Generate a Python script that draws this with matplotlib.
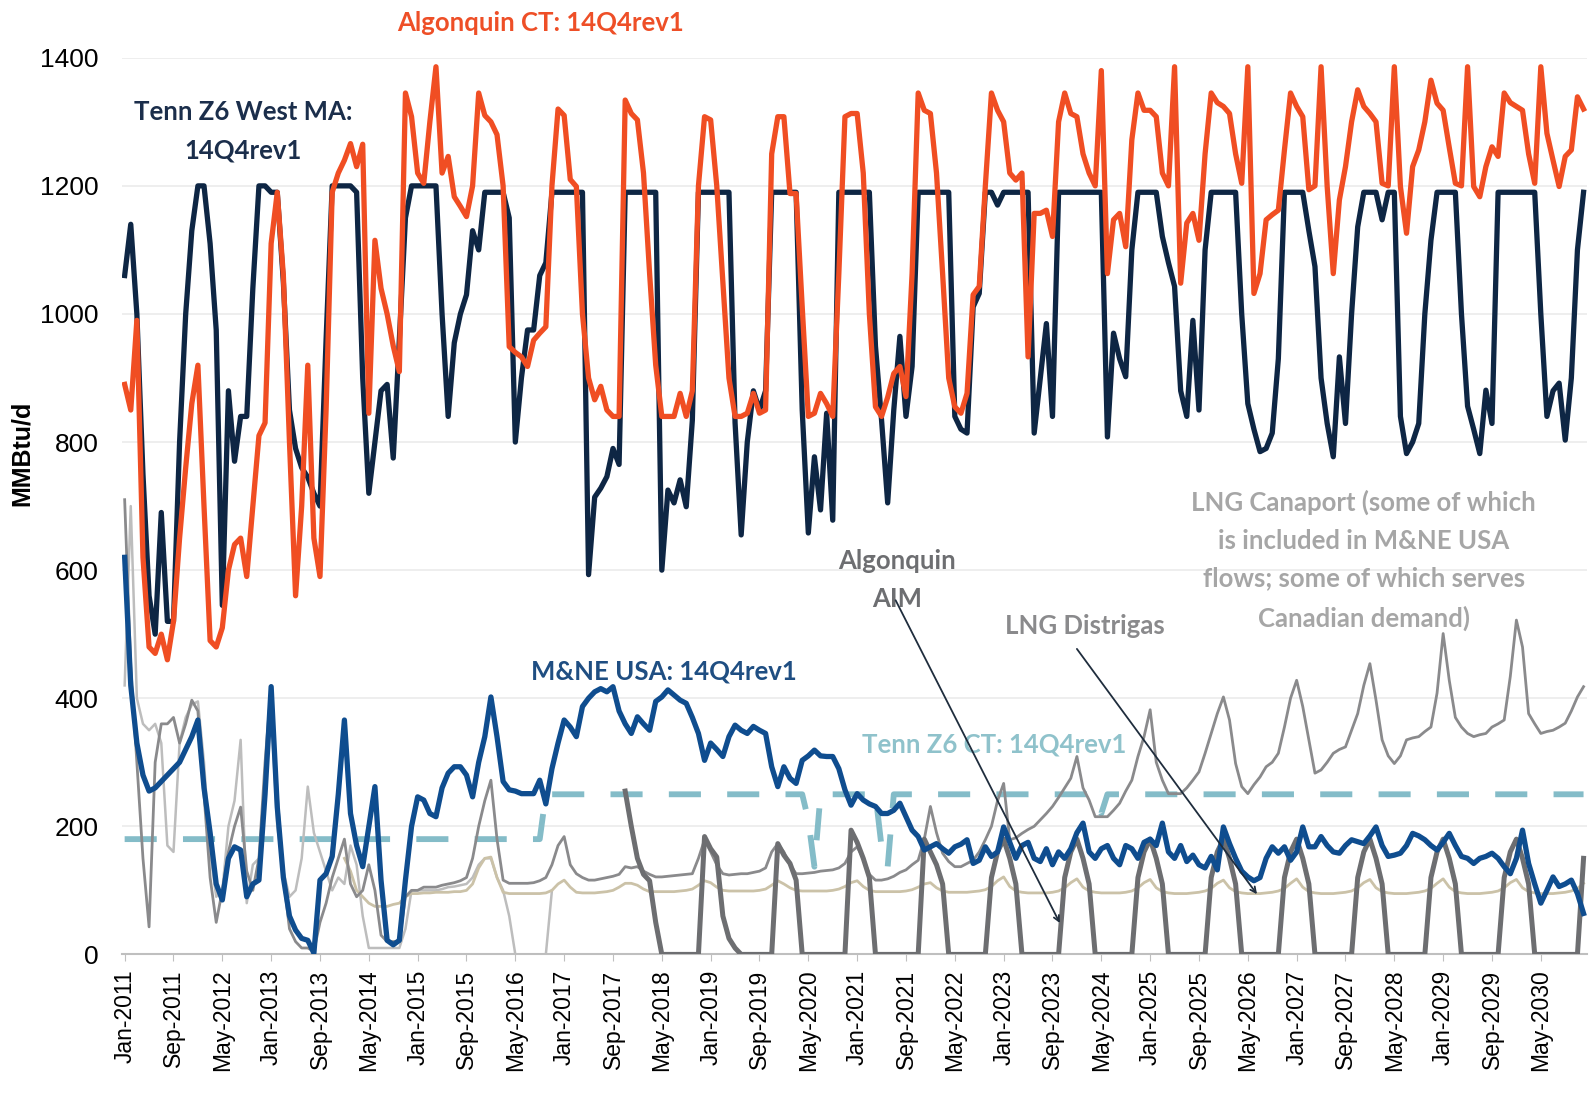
#======================================================================================
# load libraries
#======================================================================================
import numpy as np
import matplotlib.pyplot as plt

#======================================================================================
# data (monthly, Jan-2011 .. Dec-2030), MMBtu/d
#======================================================================================
months = [f"{m}-{y}" for y in range(2011, 2031)
          for m in ['Jan', 'Feb', 'Mar', 'Apr', 'May', 'Jun', 'Jul', 'Aug', 'Sep', 'Oct', 'Nov', 'Dec']]

tenn_west = [
    1060, 1140, 1000, 750, 560, 500, 690, 520, 520, 800, 1000, 1130,
    1200, 1200, 1110, 975, 545, 880, 770, 840, 840, 1040, 1200, 1200,
    1190, 1190, 1050, 850, 790, 760, 745, 720, 700, 960, 1200, 1200,
    1200, 1200, 1190, 900, 720, 800, 880, 890, 775, 960, 1150, 1200,
    1200, 1200, 1200, 1200, 1000, 840, 955, 1000, 1030, 1130, 1100, 1190,
    1190, 1190, 1190, 1150, 800, 900, 975, 975, 1060, 1080, 1190, 1190,
    1190, 1190, 1190, 1190, 593, 714, 728, 746, 790, 765, 1190, 1190,
    1190, 1190, 1190, 1190, 600, 725, 705, 741, 699, 834, 1190, 1190,
    1190, 1190, 1190, 1190, 830, 655, 800, 880, 850, 880, 1190, 1190,
    1190, 1190, 1190, 850, 658, 777, 694, 845, 678, 1190, 1190, 1190,
    1190, 1190, 1190, 950, 834, 705, 850, 965, 840, 918, 1190, 1190,
    1190, 1190, 1190, 1190, 840, 820, 814, 1011, 1032, 1190, 1190, 1170,
    1190, 1190, 1190, 1190, 1190, 814, 900, 985, 840, 1190, 1190, 1190,
    1190, 1190, 1190, 1190, 1190, 808, 970, 930, 902, 1100, 1190, 1190,
    1190, 1190, 1121, 1080, 1043, 880, 840, 990, 850, 1100, 1190, 1190,
    1190, 1190, 1190, 1000, 860, 820, 785, 790, 814, 930, 1190, 1190,
    1190, 1190, 1130, 1074, 900, 829, 777, 933, 829, 1000, 1136, 1190,
    1190, 1190, 1147, 1190, 1190, 840, 782, 800, 829, 1000, 1115, 1190,
    1190, 1190, 1190, 1000, 856, 820, 782, 881, 829, 1190, 1190, 1190,
    1190, 1190, 1190, 1190, 1000, 840, 880, 892, 803, 900, 1100, 1190,
]

algonquin_ct = [
    890, 850, 990, 620, 480, 470, 500, 460, 520, 650, 760, 860,
    920, 700, 490, 480, 510, 600, 640, 650, 590, 700, 810, 830,
    1110, 1190, 1060, 800, 560, 700, 920, 650, 590, 850, 1190, 1220,
    1240, 1266, 1230, 1265, 845, 1115, 1040, 1000, 950, 910, 1345, 1308,
    1220, 1204, 1300, 1386, 1220, 1246, 1183, 1168, 1152, 1200, 1345, 1310,
    1300, 1280, 1200, 949, 940, 933, 918, 959, 970, 980, 1200, 1320,
    1310, 1210, 1199, 1000, 900, 866, 887, 850, 840, 840, 1334, 1313,
    1303, 1220, 1063, 920, 840, 840, 840, 876, 840, 880, 1200, 1308,
    1303, 1200, 1050, 900, 840, 840, 845, 876, 845, 850, 1250, 1308,
    1308, 1188, 1188, 1011, 840, 845, 876, 860, 840, 1063, 1308, 1313,
    1313, 1220, 1000, 855, 840, 870, 907, 918, 871, 1063, 1345, 1318,
    1313, 1220, 1063, 900, 855, 845, 876, 1030, 1043, 1200, 1345, 1318,
    1300, 1220, 1209, 1220, 933, 1157, 1157, 1162, 1121, 1300, 1345, 1313,
    1308, 1250, 1220, 1200, 1380, 1063, 1147, 1157, 1105, 1272, 1345, 1318,
    1318, 1308, 1220, 1200, 1386, 1048, 1142, 1157, 1115, 1250, 1345, 1330,
    1324, 1313, 1250, 1204, 1386, 1032, 1063, 1147, 1155, 1162, 1256, 1345,
    1324, 1308, 1194, 1200, 1386, 1199, 1063, 1178, 1230, 1300, 1350, 1324,
    1313, 1300, 1204, 1200, 1386, 1199, 1126, 1230, 1256, 1300, 1365, 1329,
    1318, 1260, 1204, 1200, 1386, 1199, 1183, 1230, 1261, 1246, 1345, 1330,
    1324, 1318, 1250, 1204, 1386, 1282, 1240, 1199, 1246, 1256, 1339, 1320,
]

mne_usa = [
    620, 420, 330, 280, 255, 260, 270, 280, 290, 300, 320, 340,
    366, 260, 190, 110, 85, 150, 168, 163, 90, 110, 116, 250,
    418, 230, 120, 60, 38, 25, 22, 2, 116, 126, 153, 250,
    366, 220, 170, 137, 200, 262, 116, 22, 15, 22, 116, 200,
    246, 241, 220, 215, 260, 283, 293, 293, 280, 246, 300, 340,
    402, 340, 270, 257, 255, 251, 251, 251, 272, 235, 290, 330,
    366, 355, 340, 387, 400, 410, 415, 410, 418, 380, 360, 345,
    371, 360, 350, 395, 402, 413, 405, 397, 392, 370, 345, 303,
    330, 320, 309, 340, 358, 350, 345, 356, 350, 345, 293, 262,
    293, 275, 267, 303, 310, 319, 310, 309, 309, 290, 257, 233,
    251, 241, 235, 231, 220, 220, 225, 236, 215, 194, 184, 163,
    168, 173, 165, 158, 168, 172, 179, 142, 147, 168, 153, 160,
    199, 175, 150, 170, 175, 150, 145, 165, 140, 160, 150, 165,
    190, 205, 160, 150, 165, 170, 150, 140, 170, 165, 150, 175,
    180, 170, 205, 160, 150, 170, 145, 155, 140, 135, 153, 132,
    199, 173, 150, 130, 121, 115, 120, 150, 168, 158, 168, 147,
    160, 199, 168, 168, 184, 170, 160, 158, 170, 179, 176, 173,
    185, 199, 170, 153, 155, 158, 170, 189, 185, 179, 170, 163,
    175, 189, 170, 153, 150, 142, 150, 153, 158, 150, 137, 126,
    150, 194, 142, 110, 80, 100, 121, 106, 110, 116, 95, 64,
]

tenn_ct = [180] * 69 + [250] * 43 + [210, 137] + [250] * 10 + [168, 137] + [250] * 33 + [246, 220] + [250] * 79

canaport = [
    710, 450, 300, 150, 43, 300, 360, 360, 370, 330, 360, 397,
    380, 250, 120, 50, 100, 160, 200, 230, 130, 100, 150, 300,
    420, 250, 120, 40, 20, 10, 10, 5, 50, 80, 120, 150,
    180, 110, 90, 100, 140, 100, 30, 20, 20, 20, 90, 100,
    100, 105, 105, 105, 108, 110, 112, 115, 120, 150, 200, 240,
    272, 180, 116, 111, 111, 111, 111, 112, 115, 120, 140, 170,
    184, 140, 126, 120, 116, 116, 118, 120, 122, 125, 137, 135,
    137, 130, 125, 121, 121, 122, 123, 124, 125, 126, 150, 179,
    160, 140, 126, 124, 125, 126, 126, 128, 130, 135, 160, 173,
    160, 140, 126, 126, 127, 128, 130, 131, 132, 135, 142, 160,
    168, 150, 125, 116, 116, 118, 122, 128, 132, 140, 147, 180,
    231, 190, 158, 145, 137, 137, 142, 147, 160, 179, 200, 240,
    267, 179, 182, 189, 195, 200, 210, 220, 231, 245, 260, 275,
    309, 260, 241, 215, 215, 215, 225, 236, 255, 272, 309, 340,
    382, 300, 272, 251, 251, 251, 260, 272, 285, 314, 345, 376,
    402, 366, 298, 262, 251, 265, 277, 293, 300, 314, 355, 400,
    428, 387, 335, 283, 288, 300, 314, 320, 324, 350, 376, 420,
    454, 397, 335, 310, 298, 310, 335, 338, 340, 348, 355, 408,
    501, 428, 370, 355, 345, 340, 343, 345, 355, 360, 366, 434,
    522, 480, 376, 360, 345, 348, 350, 355, 361, 380, 402, 418,
]

# Algonquin AIM starts Nov-2017 (month index 82)
aim_start = 82
aim = [
    255, 200,
    150, 125, 115, 50, 0, 0, 0, 0, 0, 0, 0, 184,
    165, 152, 60, 25, 10, 0, 0, 0, 0, 0, 0, 173,
    155, 142, 116, 0, 0, 0, 0, 0, 0, 0, 0, 194,
    175, 150, 120, 0, 0, 0, 0, 0, 0, 0, 0, 180,
    160, 140, 110, 0, 0, 0, 0, 0, 0, 0, 120, 160,
    180, 150, 110, 0, 0, 0, 0, 0, 0, 0, 120, 160,
    180, 150, 110, 0, 0, 0, 0, 0, 0, 0, 120, 160,
    180, 150, 110, 0, 0, 0, 0, 0, 0, 0, 120, 160,
    180, 150, 110, 0, 0, 0, 0, 0, 0, 0, 120, 160,
    180, 150, 110, 0, 0, 0, 0, 0, 0, 0, 120, 160,
    180, 150, 110, 0, 0, 0, 0, 0, 0, 0, 120, 160,
    180, 150, 110, 0, 0, 0, 0, 0, 0, 0, 120, 160,
    180, 150, 110, 0, 0, 0, 0, 0, 0, 0, 0, 150,
]

# LNG Distrigas from Jan-2014 (month index 36)
distrigas_start = 36
distrigas = [
    150, 130, 100, 90, 80, 75, 75, 75, 78, 80, 90, 95,
    95, 96, 96, 97, 97, 97, 98, 98, 100, 110, 135, 150,
    152, 120, 97, 95, 95, 95, 95, 95, 95, 96, 100, 110,
    116, 105, 97, 96, 96, 96, 97, 98, 100, 105, 111, 111,
    108, 102, 98, 98, 98, 98, 98, 99, 100, 102, 108, 115,
    112, 105, 100, 99, 99, 99, 99, 99, 100, 102, 108, 115,
    110, 104, 100, 99, 99, 99, 99, 99, 100, 102, 106, 112,
    115, 106, 100, 98, 98, 98, 98, 98, 99, 101, 105, 110,
    112, 104, 99, 97, 97, 97, 97, 98, 99, 101, 106, 115,
    121, 106, 99, 97, 96, 96, 96, 96, 97, 99, 104, 112,
    118, 105, 99, 97, 96, 96, 96, 96, 97, 99, 104, 112,
    117, 104, 98, 96, 95, 95, 95, 96, 97, 99, 103, 111,
    116, 104, 98, 96, 95, 95, 95, 96, 97, 99, 103, 111,
    118, 105, 98, 96, 95, 95, 95, 96, 97, 99, 104, 112,
    117, 104, 98, 96, 95, 95, 95, 96, 97, 99, 103, 111,
    118, 105, 98, 96, 95, 95, 95, 96, 97, 99, 104, 112,
    117, 104, 98, 96, 95, 95, 95, 96, 97, 99, 103, 111,
]

# early light-grey LNG series (Jan-2011 .. Nov-2016)
lng_early = [
    420, 700, 400, 360, 350, 360, 330, 170, 160, 330, 370, 390,
    395, 300, 160, 90, 100, 200, 240, 335, 80, 140, 150, 250,
    380, 200, 130, 90, 100, 150, 262, 190, 160, 130, 100, 120,
    110, 170, 140, 60, 10, 10, 10, 10, 10, 10, 40, 100,
    100, 100, 100, 100, 102, 105, 106, 108, 110, 120, 140, 150,
    150, 120, 100, 60, 0, 0, 0, 0, 0, 0, 100,
]

#======================================================================================
# figure
#======================================================================================
fig = plt.figure(figsize=(15.9, 11.09), dpi=100)
ax = fig.add_axes([121.6 / 1590, 0.1394, 1465 / 1590, 0.8085])

x = np.arange(len(months))

ax.plot(x, tenn_ct, color='#84BCC8', lw=4.2, ls=(0, (5.5, 4.5)), zorder=2)
ax.plot(x[:len(lng_early)], lng_early, color='#BDBDBD', lw=1.8, zorder=3)
ax.plot(x[distrigas_start:], distrigas, color='#CBC2A8', lw=2.0, zorder=3)
ax.plot(x, canaport, color='#8A8A8C', lw=2.0, zorder=4)
ax.plot(x[aim_start:], aim, color='#6D6E71', lw=3.6, zorder=5)
ax.plot(x, mne_usa, color='#0F4D8F', lw=3.8, zorder=6)
ax.plot(x, tenn_west, color='#0E2644', lw=3.8, zorder=7)
ax.plot(x, algonquin_ct, color='#F04E23', lw=3.8, zorder=8)

ax.set_xlim(-0.5, len(months) - 0.5)
ax.set_ylim(0, 1400)
ax.set_yticks(range(0, 1401, 200))
ax.set_xticks(x[::8])
ax.set_xticklabels(months[::8], rotation=90, fontsize=16.5, family='Liberation Sans')
ax.tick_params(axis='y', labelsize=19, length=0, pad=16.5)
ax.tick_params(axis='x', length=5, color='#BFBFBF', pad=6)
for lab in ax.get_yticklabels():
    lab.set_family('Liberation Sans')
ax.grid(axis='y', color='#EBEBEB', lw=1.2)
ax.set_axisbelow(True)
for s in ['top', 'right', 'left']:
    ax.spines[s].set_visible(False)
ax.spines['bottom'].set_color('#BFBFBF')
ax.spines['bottom'].set_linewidth(1.5)

fig.text(0.014, 0.5915, 'MMBtu/d', rotation=90, ha='center', va='center',
         fontsize=18, fontweight='bold', family='Liberation Sans')

# labels
lbl = dict(family='Lato', fontweight='bold', fontsize=18.5, ha='center', va='center')
ax.text(68.1, 1455, 'Algonquin CT: 14Q4rev1', color='#EE4F27', clip_on=False, **lbl)
ax.text(19.4, 1285, 'Tenn Z6 West MA:\n14Q4rev1', color='#1B2E4B', linespacing=1.75, **lbl)
ax.text(88.4, 442, 'M&NE USA: 14Q4rev1', color='#1F4E82', **lbl)
ax.text(142.4, 327, 'Tenn Z6 CT: 14Q4rev1', color='#8FC2CB', **lbl)
ax.text(126.5, 584, 'Algonquin\nAIM', color='#6D6E71', linespacing=1.7, **lbl)
ax.text(157.3, 513, 'LNG Distrigas', color='#8A8A8C', **lbl)
ax.text(203, 616, 'LNG Canaport (some of which\nis included in M&NE USA\nflows; some of which serves\nCanadian demand)',
        color='#A6A6A6', linespacing=1.7, **lbl)

arrow = dict(arrowstyle='->', color='#1F2D3D', lw=1.3, shrinkA=0, shrinkB=0)
ax.annotate('', xy=(153.2, 49), xytext=(126.3, 553), arrowprops=arrow, zorder=9)
ax.annotate('', xy=(185.5, 94), xytext=(156, 477), arrowprops=arrow, zorder=9)

plt.savefig('out.png', dpi=100)
